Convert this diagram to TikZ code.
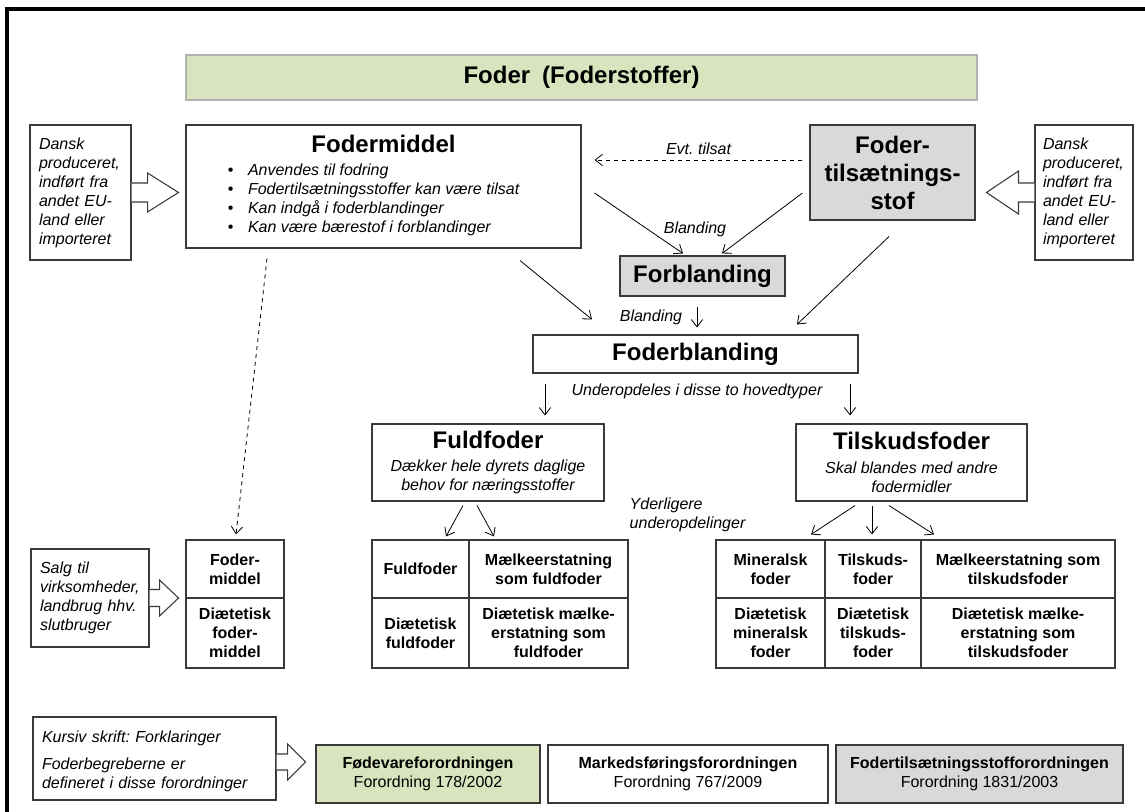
\documentclass[tikz,border=0pt]{standalone}
\usepackage{fontspec}
\setmainfont{Liberation Sans}
\usepackage{tikz}
\usetikzlibrary{arrows.meta,calc}

\definecolor{groen}{HTML}{D7E4BD}
\definecolor{graa}{HTML}{D9D9D9}
\definecolor{kant}{HTML}{3A3A3A}

\tikzset{
	boks/.style={draw=kant,line width=0.8pt,inner sep=0pt,align=center},
	stor/.style={font=\bfseries\fontsize{18}{21}\selectfont},
	fed/.style={font=\bfseries\fontsize{12}{14.25}\selectfont},
	norm/.style={font=\fontsize{12}{14.25}\selectfont},
	kursiv/.style={font=\itshape\fontsize{12}{14.25}\selectfont},
	pil/.style={-{Straight Barb[length=5.5pt,width=8.5pt]},line width=0.6pt},
	blokpil/.style={draw=kant,fill=white,line width=0.8pt,line join=miter},
	hoj/.style={minimum height=43.5pt},
	lav/.style={minimum height=52.5pt}
}

\begin{document}
\frenchspacing
\begin{tikzpicture}[x=0.75pt,y=-0.75pt]
	\useasboundingbox (0,0) rectangle (1145,812);
	\draw[line width=2.4pt] (7,812) -- (7,9) -- (1145,9);

	\node[boks,minimum width=791*0.75pt,minimum height=45*0.75pt,fill=groen,draw=gray!60,stor] (titel) at (581.5,77.5) {Foder\hspace{0.5em}(Foderstoffer)};
	\node[boks,minimum width=395*0.75pt,minimum height=123*0.75pt,kursiv] (fmiddel) at (383.5,186.5) {{\upshape\bfseries\fontsize{18}{21}\selectfont Fodermiddel}\\[3pt]
		\hspace*{-15pt}\begin{tabular}[t]{@{}l@{\hspace{11pt}}l@{}}
		\upshape • & Anvendes til fodring\\
		\upshape • & Fodertilsætningsstoffer kan være tilsat\\
		\upshape • & Kan indgå i foderblandinger\\
		\upshape • & Kan være bærestof i forblandinger
		\end{tabular}};
	\node[boks,minimum width=165*0.75pt,minimum height=95*0.75pt,fill=graa,stor] (tilsat) at (892.5,172.5) {Foder-\\tilsætnings-\\stof};
	\node[boks,minimum width=101*0.75pt,minimum height=135*0.75pt,kursiv,align=left,text width=62.25pt] (indL) at (80.5,192.5) {Dansk\\produceret,\\indført fra\\andet EU-\\land eller\\importeret};
	\node[boks,minimum width=98*0.75pt,minimum height=135*0.75pt,kursiv,align=left,text width=61.5pt] (indR) at (1084,192.5) {Dansk\\produceret,\\indført fra\\andet EU-\\land eller\\importeret};
	\node[boks,minimum width=165*0.75pt,minimum height=40*0.75pt,fill=graa,stor] (forbl) at (702.5,276) {Forblanding};
	\node[boks,minimum width=325*0.75pt,minimum height=38*0.75pt,stor] (fbl) at (695.5,354) {Foderblanding};
	\node[boks,minimum width=232*0.75pt,minimum height=77*0.75pt,kursiv] (fuldf) at (488,462.5) {{\upshape\bfseries\fontsize{18}{21}\selectfont Fuldfoder}\\[3.5pt]Dækker hele dyrets daglige\\behov for næringsstoffer};
	\node[boks,minimum width=231*0.75pt,minimum height=77*0.75pt,kursiv] (tilskf) at (911.5,462.5) {{\upshape\bfseries\fontsize{18}{21}\selectfont Tilskudsfoder}\\[3.5pt]Skal blandes med andre\\fodermidler};

	\node[boks,hoj,minimum width=98*0.75pt,fed] (fm1) at (235,569) {Foder-\\middel};
	\node[boks,lav,minimum width=98*0.75pt,fed] (fm2) at (235,633) {Diætetisk\\foder-\\middel};
	\node[boks,hoj,minimum width=97*0.75pt,fed] (ff1) at (420.5,569) {Fuldfoder};
	\node[boks,hoj,minimum width=159*0.75pt,fed] (ff2) at (548.5,569) {Mælkeerstatning\\som fuldfoder};
	\node[boks,lav,minimum width=97*0.75pt,fed] (ff3) at (420.5,633) {Diætetisk\\fuldfoder};
	\node[boks,lav,minimum width=159*0.75pt,fed] (ff4) at (548.5,633) {Diætetisk mælke-\\erstatning som\\fuldfoder};
	\node[boks,hoj,minimum width=109*0.75pt,fed] (ts1) at (770.5,569) {Mineralsk\\foder};
	\node[boks,hoj,minimum width=96*0.75pt,fed] (ts2) at (873,569) {Tilskuds-\\foder};
	\node[boks,hoj,minimum width=194*0.75pt,fed] (ts3) at (1018,569) {Mælkeerstatning som\\tilskudsfoder};
	\node[boks,lav,minimum width=109*0.75pt,fed] (ts4) at (770.5,633) {Diætetisk\\mineralsk\\foder};
	\node[boks,lav,minimum width=96*0.75pt,fed] (ts5) at (873,633) {Diætetisk\\tilskuds-\\foder};
	\node[boks,lav,minimum width=194*0.75pt,fed] (ts6) at (1018,633) {Diætetisk mælke-\\erstatning som\\tilskudsfoder};

	\node[boks,minimum width=118*0.75pt,minimum height=98*0.75pt,kursiv,align=left,text width=75pt] (salg) at (90,598) {Salg til\\virksomheder,\\landbrug hhv.\\slutbruger};
	\node[boks,minimum width=243*0.75pt,minimum height=83*0.75pt,kursiv,align=left,text width=168.75pt] (forkl) at (154.5,758.5) {\rule{0pt}{13pt}Kursiv skrift: Forklaringer\\[6pt]Foderbegreberne er\\defineret i disse forordninger};
	\node[boks,minimum width=224*0.75pt,minimum height=58*0.75pt,fill=groen,norm] (reg1) at (428,774) {\textbf{Fødevareforordningen}\\Forordning 178/2002};
	\node[boks,minimum width=280*0.75pt,minimum height=58*0.75pt,norm] (reg2) at (688,774) {\textbf{Markedsføringsforordningen}\\Forordning 767/2009};
	\node[boks,minimum width=287*0.75pt,minimum height=58*0.75pt,fill=graa,norm] (reg3) at (979.5,774) {\textbf{Fodertilsætningsstofforordningen}\\Forordning 1831/2003};

	\node[kursiv] (bl1) at ($(forbl.north)+(-7.5,-26)$) {Blanding};
	\node[kursiv] (bl2) at ($(fbl.north)+(-44.5,-17)$) {Blanding};
	\node[kursiv] (under) at ($(fbl.south)+(1.5,18)$) {Underopdeles i disse to hovedtyper};
	\node[kursiv,align=left,anchor=west] (yderl) at (625,515) {Yderligere\\underopdelinger};

	\draw[pil,dashed] ($(tilsat.west)+(-7,-12.5)$) -- node[kursiv,above=0pt] (evt) {Evt. tilsat} ($(fmiddel.east)+(13,-26.5)$);
	\draw[pil] ($(fmiddel.east)+(13,6.5)$) -- ($(forbl.north)+(-19.5,-2)$);
	\draw[pil] ($(tilsat.west)+(-7,20.5)$) -- ($(forbl.north)+(19.5,-2)$);
	\draw[pil] ($(fmiddel.south)+(136.5,12)$) -- ($(fbl.north)+(-103.5,-15)$);
	\draw[pil] ($(forbl.south)+(-5.5,10)$) -- ($(fbl.north)+(1.5,-7)$);
	\draw[pil] ($(tilsat.south)+(-3.5,16)$) -- ($(fbl.north)+(101.5,-10)$);
	\draw[pil] ($(fbl.south)+(-150.5,10)$) -- ($(fuldf.north)+(57,-8)$);
	\draw[pil] ($(fbl.south)+(154.5,10)$) -- ($(tilskf.north)+(-61.5,-8)$);
	\draw[pil] ($(fuldf.south)+(-25,4)$) -- ($(ff1.north)+(25.5,-3)$);
	\draw[pil] ($(fuldf.south)+(-11,4)$) -- ($(ff2.north)+(-54.5,-3)$);
	\draw[pil] ($(tilskf.south)+(-56.5,4)$) -- ($(ts1.north)+(40.5,-5)$);
	\draw[pil] ($(tilskf.south)+(-39.5,4)$) -- ($(ts2.north)+(-1,-5)$);
	\draw[pil] ($(tilskf.south)+(-22.5,4)$) -- ($(ts3.north)+(-84,-5)$);
	\draw[pil,dashed] ($(fmiddel.south)+(-116.5,10)$) -- ($(fm1.north)+(1,-5)$);

	\draw[blokpil] ($(indL.east)+(0,-9.5)$) -- ++(16,0) -- ++(0,-10) -- ++(31,19.5) -- ++(-31,19.5) -- ++(0,-10) -- ++(-16,0);
	\draw[blokpil] ($(indR.west)+(0,-9.5)$) -- ++(-16,0) -- ++(0,-12) -- ++(-32,21.5) -- ++(32,21.5) -- ++(0,-12) -- ++(16,0);
	\draw[blokpil] ($(salg.east)+(0,-8.5)$) -- ++(10,0) -- ++(0,-9.5) -- ++(19,18) -- ++(-19,18) -- ++(0,-9.5) -- ++(-10,0);
	\draw[blokpil] ($(forkl.east)+(0,-4.5)$) -- ++(11,0) -- ++(0,-10) -- ++(18,18) -- ++(-18,18) -- ++(0,-10) -- ++(-11,0);
\end{tikzpicture}
\end{document}
